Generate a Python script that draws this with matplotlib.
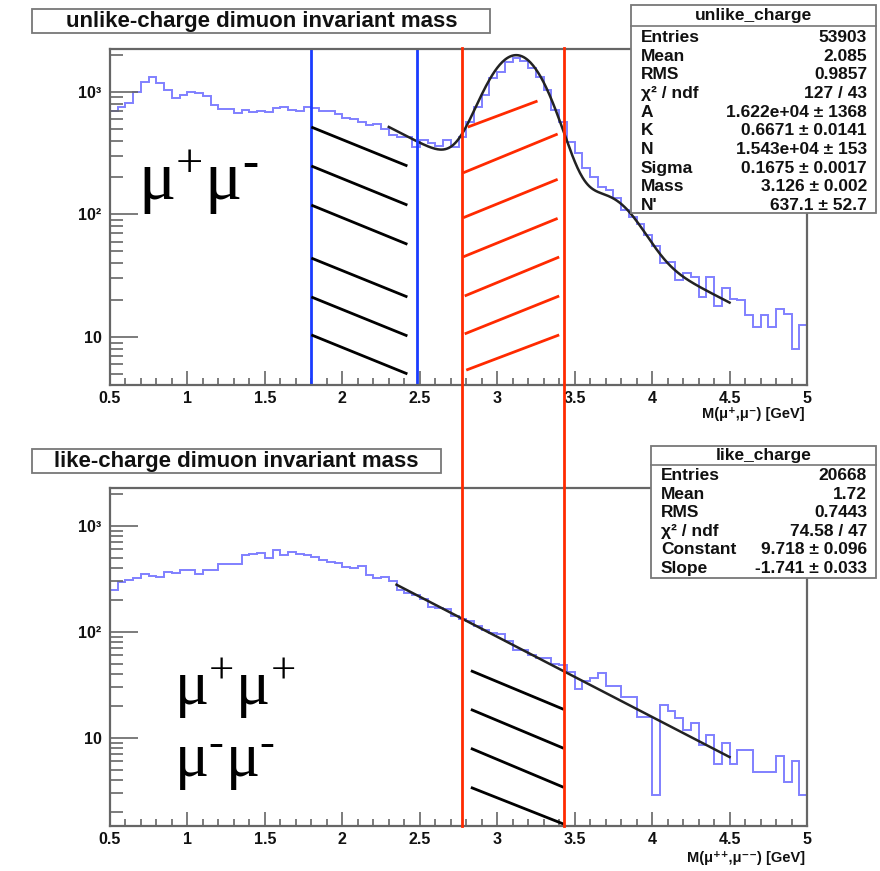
import numpy as np
import matplotlib.pyplot as plt
import matplotlib.transforms as mtransforms
from matplotlib.patches import Rectangle
from matplotlib.lines import Line2D

plt.rcParams['font.family'] = ['Liberation Sans', 'DejaVu Sans']
plt.rcParams['mathtext.fontset'] = 'custom'
plt.rcParams['mathtext.rm'] = 'Liberation Serif'
plt.rcParams['mathtext.it'] = 'Liberation Serif:italic'

# --- data (bin width 0.05 GeV, 0.5 .. 5 GeV) ---
bin_lo, bin_hi, bin_w = 0.5, 5.0, 0.05

unlike_counts = [
    700, 755, 813, 990, 1200, 1330, 1180, 1030, 885, 940,
    1000, 985, 920, 780, 718, 718, 675, 715, 680, 700,
    680, 730, 745, 715, 700, 745, 735, 700, 690, 660,
    610, 600, 570, 535, 550, 500, 443, 430, 430, 356,
    404, 379, 360, 404, 351, 430, 569, 755, 940, 1285,
    1456, 1757, 1900, 1790, 1552, 1325, 1032, 709, 569, 391,
    315, 237, 203, 168, 158, 135, 108, 95, 84, 68,
    55, 40, 41, 29, 33, 31, 21, 31, 18, 25,
    20.5, 20, 15, 12, 15, 12, 17, 15.5, 8, 12.5,
]

like_counts = [
    247, 296, 308, 323, 350, 337, 326, 368, 356, 382,
    386, 348, 386, 386, 433, 433, 433, 530, 541, 556,
    492, 590, 530, 569, 541, 530, 504, 474, 457, 448,
    405, 396, 417, 340, 323, 330, 303, 247, 230, 220,
    205, 172, 166, 163, 140, 133, 125, 113, 104, 97,
    96, 82, 67, 67, 60, 57, 57, 50, 48.6, 42,
    29, 34.5, 37, 40.5, 31, 31, 24.4, 24.4, 15.6, 15.8,
    2.9, 20.3, 17.9, 15.2, 11.8, 13.7, 8.5, 10.6, 5.7, 8.9,
    5.7, 7.7, 7.7, 4.8, 4.8, 4.8, 6.7, 3.85, 6.0, 2.9,
]

# fit parameters (from the stat boxes)
fitA, fitK, fitN, fitSigma, fitMass, fitNp = 1.622e4, 0.6671, 1.543e4, 0.1675, 3.126, 637.1
psi2s_offset = 0.589
fit_top_range = (2.3, 4.5)
fitConst, fitSlope = 9.718, -1.741
fit_bot_range = (2.35, 4.5)

unlike_stats = [
    ('Entries', '53903'), ('Mean', '2.085'), ('RMS', '0.9857'),
    ('χ² / ndf', '127 / 43'), ('A', '1.622e+04 ± 1368'),
    ('K', '0.6671 ± 0.0141'), ('N', '1.543e+04 ± 153'),
    ('Sigma', '0.1675 ± 0.0017'), ('Mass', '3.126 ± 0.002'),
    ("N'", '637.1 ± 52.7'),
]
like_stats = [
    ('Entries', '20668'), ('Mean', '1.72'), ('RMS', '0.7443'),
    ('χ² / ndf', '74.58 / 47'), ('Constant', '9.718 ± 0.096'),
    ('Slope', '-1.741 ± 0.033'),
]

# mass windows
blue_window = [1.8, 2.48]
red_window = [2.77, 3.43]

# hatch strokes (mass, counts)
top_black_x = (1.8, 2.42)
top_black_y0 = [515, 248, 119, 44, 21.2, 10.4]
top_black_y1 = [248, 119, 57, 21.2, 10.2, 5.0]
top_red_x0 = [2.81, 2.78, 2.78, 2.78, 2.79, 2.79, 2.80]
top_red_x1 = [3.26, 3.39, 3.39, 3.39, 3.40, 3.40, 3.40]
top_red_y0 = [515, 218, 93.8, 45, 21.6, 10.6, 5.37]
top_red_y1 = [840, 452, 193, 92.7, 44.9, 21.6, 10.4]
bot_black_x = (2.83, 3.43)
bot_black_y0 = [42.9, 18.5, 7.94, 3.40]
bot_black_y1 = [18.5, 7.94, 3.40, 1.53]

W, H = 880, 871
fig = plt.figure(figsize=(W / 100, H / 100), dpi=100)


def fr(x0, y0, x1, y1):
    # pixel box -> figure fraction rect
    return [x0 / W, 1 - y1 / H, (x1 - x0) / W, (y1 - y0) / H]


edges = np.arange(bin_lo, bin_hi + bin_w / 2, bin_w)
frame_col = '#666666'
hist_col = '#8080ff'
txt_col = '#111111'


def style_axes(ax, ylim):
    ax.set_xlim(bin_lo, bin_hi)
    ax.set_yscale('log')
    ax.set_ylim(*ylim)
    ax.set_xticks(np.arange(0.5, 5.01, 0.5))
    ax.set_xticklabels(['0.5', '1', '1.5', '2', '2.5', '3', '3.5', '4', '4.5', '5'])
    ax.set_xticks(np.arange(0.5, 5.01, 0.1), minor=True)
    ax.set_yticks([10, 100, 1000])
    ax.set_yticklabels(['10', '10²', '10³'])
    for sp in ax.spines.values():
        sp.set_color(frame_col)
        sp.set_linewidth(1.6)
    ax.tick_params(which='both', direction='in', top=False, right=False,
                   colors=frame_col, labelcolor=txt_col, width=1.2)
    ax.tick_params(axis='x', which='major', length=10, labelsize=11.5, pad=4)
    ax.tick_params(axis='x', which='minor', length=5)
    ax.tick_params(axis='y', which='major', length=20, labelsize=11.5, pad=6)
    ax.tick_params(axis='y', which='minor', length=9)
    for lab in ax.get_xticklabels() + ax.get_yticklabels():
        lab.set_fontweight('bold')


# ---------- top panel ----------
ax1 = fig.add_axes(fr(110, 49, 807, 385))
ax1.stairs(unlike_counts, edges, color=hist_col, lw=1.4)
m = np.linspace(*fit_top_range, 400)
norm = bin_w / (np.sqrt(2 * np.pi) * fitSigma)
fit_top = (fitA * np.exp(-m / fitK)
           + fitN * norm * np.exp(-0.5 * ((m - fitMass) / fitSigma) ** 2)
           + fitNp * norm * np.exp(-0.5 * ((m - fitMass - psi2s_offset) / fitSigma) ** 2))
ax1.plot(m, fit_top, color='#222222', lw=1.8)
style_axes(ax1, (4.06, 2230))
for xv in blue_window:
    ax1.axvline(xv, color='#1a3cff', lw=2)
for y0, y1 in zip(top_black_y0, top_black_y1):
    ax1.plot(top_black_x, [y0, y1], color='black', lw=2, solid_capstyle='butt')
for x0, x1, y0, y1 in zip(top_red_x0, top_red_x1, top_red_y0, top_red_y1):
    ax1.plot([x0, x1], [y0, y1], color='#ff2a00', lw=2, solid_capstyle='butt')

# ---------- bottom panel ----------
ax2 = fig.add_axes(fr(110, 488, 807, 826))
ax2.stairs(like_counts, edges, color=hist_col, lw=1.4)
mb = np.linspace(*fit_bot_range, 200)
ax2.plot(mb, np.exp(fitConst + fitSlope * mb), color='#222222', lw=1.8)
style_axes(ax2, (1.47, 2270))
for y0, y1 in zip(bot_black_y0, bot_black_y1):
    ax2.plot(bot_black_x, [y0, y1], color='black', lw=2, solid_capstyle='butt')

# red window lines run through both panels
tr = mtransforms.blended_transform_factory(ax1.transData, fig.transFigure)
for xv in red_window:
    fig.add_artist(Line2D([xv, xv], [1 - 48 / H, 1 - 826 / H], transform=tr,
                          color='#ff2a00', lw=2))

# ---------- titles / stat boxes ----------
box_kw = dict(transform=fig.transFigure, facecolor='white', edgecolor='#777777', lw=1.3)
fig.add_artist(Rectangle(fr(32, 9, 490, 33)[:2], 458 / W, 24 / H, **box_kw))
fig.text(262 / W, 1 - 21 / H, 'unlike-charge dimuon invariant mass', ha='center',
         va='center', fontsize=16, fontweight='bold', color=txt_col)
fig.add_artist(Rectangle(fr(32, 449, 441, 473)[:2], 409 / W, 24 / H, **box_kw))
fig.text(236 / W, 1 - 461 / H, 'like-charge dimuon invariant mass', ha='center',
         va='center', fontsize=16, fontweight='bold', color=txt_col)


def stat_box(x0, y0, x1, y1, sep, title, rows, row_y0, row_dy):
    fig.add_artist(Rectangle(fr(x0, y0, x1, y1)[:2], (x1 - x0) / W, (y1 - y0) / H, **box_kw))
    fig.add_artist(Line2D([x0 / W, x1 / W], [1 - sep / H, 1 - sep / H],
                          transform=fig.transFigure, color='#777777', lw=1.2))
    fig.text((x0 + x1) / 2 / W, 1 - (y0 + sep) / 2 / H, title, ha='center', va='center',
             fontsize=12.5, fontweight='bold', color=txt_col)
    for i, (k, v) in enumerate(rows):
        yy = 1 - (row_y0 + i * row_dy) / H
        fig.text((x0 + 10) / W, yy, k, ha='left', va='center', fontsize=12.5,
                 fontweight='bold', color=txt_col)
        fig.text((x1 - 9) / W, yy, v, ha='right', va='center', fontsize=12.5,
                 fontweight='bold', color=txt_col)


stat_box(631, 5, 876, 213, 26, 'unlike_charge', unlike_stats, 37.5, 18.67)
stat_box(651, 446, 876, 578, 465, 'like_charge', like_stats, 475.5, 18.6)

# axis labels
fig.text(805 / W, 1 - 414 / H, 'M(μ⁺,μ⁻) [GeV]', ha='right', va='center',
         fontsize=10.5, fontweight='bold', color=txt_col)
fig.text(805 / W, 1 - 858 / H, 'M(μ⁺⁺,μ⁻⁻) [GeV]', ha='right', va='center',
         fontsize=10.5, fontweight='bold', color=txt_col)

# big particle labels
fig.text(138 / W, 1 - 200 / H, r'$\mathrm{μ}^{+}\mathrm{μ}^{‐}$', fontsize=50,
         va='baseline', ha='left')
fig.text(174 / W, 1 - 705 / H, r'$\mathrm{μ}^{+}\mathrm{μ}^{+}$', fontsize=46,
         va='baseline', ha='left')
fig.text(174 / W, 1 - 777 / H, r'$\mathrm{μ}^{‐}\mathrm{μ}^{‐}$', fontsize=46,
         va='baseline', ha='left')

fig.savefig('out.png', dpi=100)
